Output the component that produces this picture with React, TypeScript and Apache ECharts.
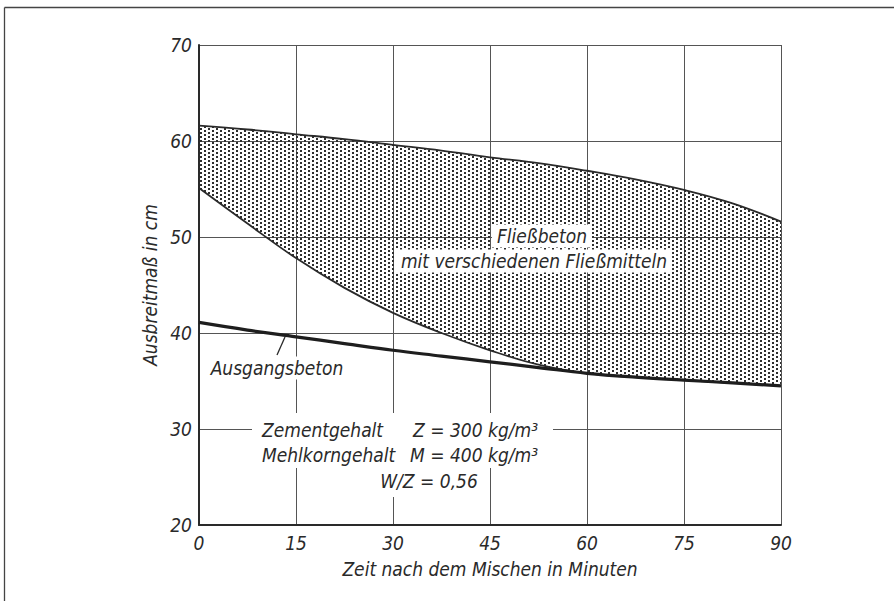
import React, { useEffect, useRef } from "react";
import * as echarts from "echarts";

const minutes = ["0", "7.5", "15", "22.5", "30", "37.5", "45", "52.5", "60", "67.5", "75", "82.5", "90"];
const upperEdge = [61.6, 61.2, 60.7, 60.2, 59.6, 59.0, 58.3, 57.7, 56.9, 56.0, 54.9, 53.5, 51.6];
const lowerEdge = [55.1, 51.4, 47.8, 44.7, 42.1, 40.0, 38.2, 36.7, 35.8, 35.4, 35.1, 34.8, 34.5];
const ausgangsbeton = [41.1, 40.3, 39.6, 38.9, 38.2, 37.6, 37.0, 36.4, 35.8, 35.4, 35.1, 34.8, 34.5];

const xName = "Zeit nach dem Mischen in Minuten";
const yName = "Ausbreitmaß in cm";
const bandLabel1 = "Fließbeton";
const bandLabel2 = "mit verschiedenen Fließmitteln";
const baseLabel = "Ausgangsbeton";
const noteName1 = "Zementgehalt";
const noteValue1 = "Z = 300 kg/m³";
const noteName2 = "Mehlkorngehalt";
const noteValue2 = "M = 400 kg/m³";
const noteLine3 = "W/Z = 0,56";

const FONT = "'Liberation Sans Narrow', 'DejaVu Sans Condensed', 'Roboto Condensed', 'DejaVu Sans', sans-serif";
const INK = "#2a2a2a";

function makeDots(): string {
  const c = document.createElement("canvas");
  c.width = 8;
  c.height = 4;
  const ctx = c.getContext("2d");
  if (ctx) {
    ctx.fillStyle = "#2e2e2e";
    ctx.fillRect(0, 0, 2, 2);
    ctx.fillRect(4, 2, 2, 2);
  }
  return c.toDataURL();
}

export default function App() {
  const ref = useRef<HTMLDivElement>(null);
  useEffect(() => {
    if (!ref.current) return;
    const chart = echarts.init(ref.current, null, { renderer: "svg" });
    const dots = makeDots();
    const txt = (text: string, x: number, y: number, align: string, bg: boolean) => ({
      type: "text",
      z: 100,
      x,
      y,
      style: {
        text,
        fontFamily: FONT,
        fontStyle: "italic",
        fontSize: 19,
        fill: INK,
        align,
        verticalAlign: "middle",
        backgroundColor: bg ? "#fff" : undefined,
        padding: bg ? [2, 5, 2, 5] : 0,
      },
    });
    chart.setOption({
      animation: false,
      backgroundColor: "#fff",
      grid: { left: 199, right: 113, top: 45, bottom: 76, show: false },
      xAxis: {
        type: "category",
        data: minutes,
        boundaryGap: false,
        name: xName,
        nameLocation: "middle",
        nameGap: 34,
        nameTextStyle: { fontFamily: FONT, fontStyle: "italic", fontSize: 19, color: INK },
        axisLine: { show: true, lineStyle: { color: INK, width: 2 } },
        axisTick: { show: false },
        axisLabel: { interval: 1, fontFamily: FONT, fontStyle: "italic", fontSize: 19, color: INK, margin: 8 },
        splitLine: { show: true, interval: 1, lineStyle: { color: "#555", width: 1 } },
      },
      yAxis: {
        type: "value",
        min: 20,
        max: 70,
        interval: 10,
        name: yName,
        nameLocation: "middle",
        nameGap: 32,
        nameTextStyle: { fontFamily: FONT, fontStyle: "italic", fontSize: 19, color: INK },
        axisLine: { show: true, lineStyle: { color: INK, width: 2 } },
        axisTick: { show: false },
        axisLabel: { fontFamily: FONT, fontStyle: "italic", fontSize: 19, color: INK, margin: 7 },
        splitLine: { show: true, lineStyle: { color: "#555", width: 1 } },
      },
      series: [
        {
          name: "lower",
          type: "line",
          stack: "band",
          smooth: 0.4,
          symbol: "none",
          data: lowerEdge,
          lineStyle: { color: INK, width: 1.8 },
          z: 3,
        },
        {
          name: "band",
          type: "line",
          stack: "band",
          smooth: 0.4,
          symbol: "none",
          data: upperEdge.map((u, i) => +(u - lowerEdge[i]).toFixed(2)),
          lineStyle: { color: INK, width: 1.8 },
          areaStyle: {
            color: { image: dots, repeat: "repeat", imageWidth: 8, imageHeight: 4 },
            opacity: 1,
          },
          z: 2,
        },
        {
          name: baseLabel,
          type: "line",
          smooth: 0.4,
          symbol: "none",
          data: ausgangsbeton,
          lineStyle: { color: "#1e1e1e", width: 3.2 },
          z: 4,
        },
      ],
      graphic: [
        { type: "line", z: 100, shape: { x1: 4.5, y1: 7.5, x2: 894, y2: 7.5 }, style: { stroke: "#444", lineWidth: 1.3 } },
        { type: "line", z: 100, shape: { x1: 4.5, y1: 7.5, x2: 4.5, y2: 601 }, style: { stroke: "#444", lineWidth: 1.3 } },
        { type: "rect", z: 99, shape: { x: 252, y: 413, width: 301, height: 55 }, style: { fill: "#fff" } },
        { type: "rect", z: 99, shape: { x: 372, y: 466, width: 115, height: 31 }, style: { fill: "#fff" } },
        txt(noteName1, 262, 430, "left", false),
        txt(noteValue1, 538, 430, "right", false),
        txt(noteName2, 262, 455, "left", false),
        txt(noteValue2, 538, 455, "right", false),
        txt(noteLine3, 429, 481, "center", false),
        txt(bandLabel1, 542, 236, "center", true),
        txt(bandLabel2, 534, 261, "center", true),
        txt(baseLabel, 277, 368, "center", true),
        { type: "line", z: 101, shape: { x1: 277, y1: 355, x2: 285, y2: 337 }, style: { stroke: INK, lineWidth: 1.3 } },
      ],
    });
    return () => chart.dispose();
  }, []);
  return <div ref={ref} style={{ position: "fixed", left: 0, top: 0, width: 894, height: 601 }} />;
}
